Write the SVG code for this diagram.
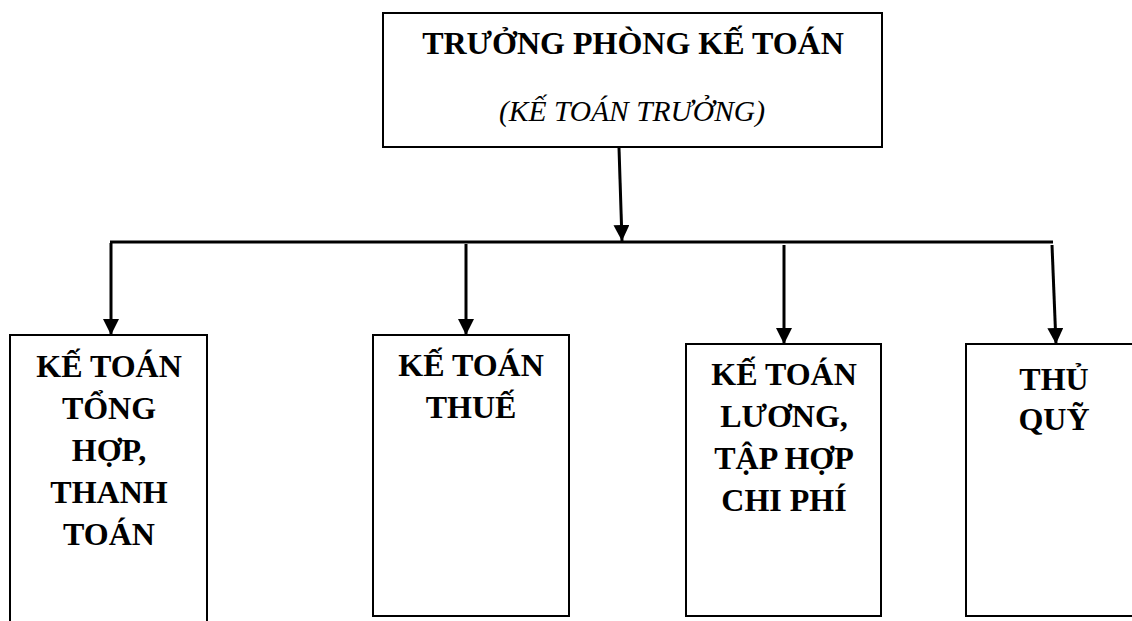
<svg xmlns="http://www.w3.org/2000/svg" width="1132" height="621" viewBox="0 0 1132 621">
<style>
.box{fill:#fff;stroke:#000;stroke-width:2}
.t{font-family:"Liberation Serif","Times New Roman",serif;font-weight:bold;font-size:32px;text-anchor:middle;fill:#000}
.it{font-family:"Liberation Serif","Times New Roman",serif;font-style:italic;font-size:29.5px;text-anchor:middle;fill:#000}
.c{stroke:#000;stroke-width:3;fill:none}
</style>
<defs>
<marker id="ah" markerUnits="userSpaceOnUse" markerWidth="16" markerHeight="16" viewBox="0 0 16 16" refX="16" refY="8" orient="auto">
<path d="M0,0 L16,8 L0,16 Z" fill="#000"/>
</marker>
</defs>
<g id="top">
<rect class="box" x="383" y="13" width="499" height="134"/>
<text class="t" x="633" y="54">TRƯỞNG PHÒNG KẾ TOÁN</text>
<text class="it" x="632" y="121">(KẾ TOÁN TRƯỞNG)</text>
</g>
<g id="connectors">
<line class="c" x1="619" y1="148" x2="622" y2="241" marker-end="url(#ah)"/>
<line class="c" x1="110" y1="242" x2="1053" y2="242"/>
<line class="c" x1="111" y1="243" x2="111" y2="335" marker-end="url(#ah)"/>
<line class="c" x1="466" y1="244" x2="466" y2="335" marker-end="url(#ah)"/>
<line class="c" x1="784" y1="245" x2="784" y2="344" marker-end="url(#ah)"/>
<line class="c" x1="1052" y1="245" x2="1056" y2="344" marker-end="url(#ah)"/>
</g>
<g id="n1">
<rect class="box" x="10" y="335" width="197" height="300"/>
<text class="t" x="109" y="377">KẾ TOÁN</text>
<text class="t" x="109" y="419">TỔNG</text>
<text class="t" x="109" y="461">HỢP,</text>
<text class="t" x="109" y="503">THANH</text>
<text class="t" x="109" y="545">TOÁN</text>
</g>
<g id="n2">
<rect class="box" x="373" y="335" width="196" height="281"/>
<text class="t" x="471" y="376">KẾ TOÁN</text>
<text class="t" x="471" y="418">THUẾ</text>
</g>
<g id="n3">
<rect class="box" x="686" y="344" width="195" height="272"/>
<text class="t" x="784" y="385">KẾ TOÁN</text>
<text class="t" x="784" y="427">LƯƠNG,</text>
<text class="t" x="784" y="469">TẬP HỢP</text>
<text class="t" x="784" y="511">CHI PHÍ</text>
</g>
<g id="n4">
<rect class="box" x="966" y="344" width="180" height="272"/>
<text class="t" x="1054" y="390">THỦ</text>
<text class="t" x="1054" y="430">QUỸ</text>
</g>
</svg>
